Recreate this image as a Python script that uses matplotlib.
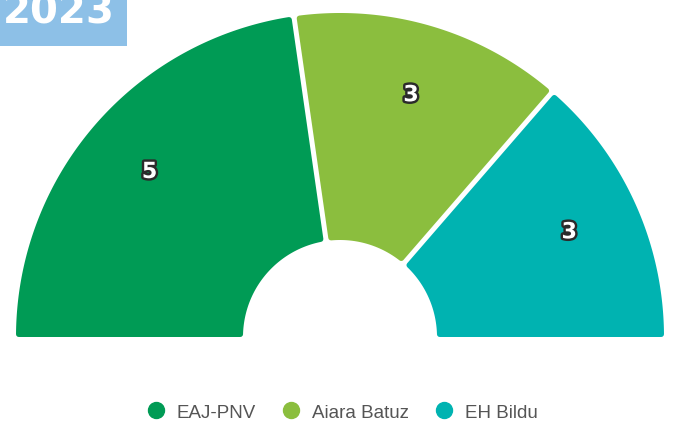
import numpy as np
import matplotlib
matplotlib.use('Agg')
import matplotlib.pyplot as plt
from matplotlib.patches import Polygon, Rectangle
from matplotlib.lines import Line2D
import matplotlib.patheffects as pe

parties = ['EAJ-PNV', 'Aiara Batuz', 'EH Bildu']
seats = [5, 3, 3]
colors = ['#009b55', '#8bbe3e', '#00b3b1']
year = '2023'

# geometry in pixels (y down)
cx, cy = 340, 338
R_out, R_in = 324, 97
lw_px = 5.5
gap = 5.0


def slice_poly(t0, t1, d0, d1, r_out, r_in):
    # t0 > t1 (degrees, drawn clockwise from left), d = perpendicular offsets
    def arc(r):
        a0 = np.radians(t0) - np.arcsin(d0 / r)
        a1 = np.radians(t1) + np.arcsin(d1 / r)
        return np.linspace(a0, a1, 120)
    ao = arc(r_out)
    ai = arc(r_in)[::-1]
    xs = np.concatenate([cx + r_out * np.cos(ao), cx + r_in * np.cos(ai)])
    ys = np.concatenate([cy - r_out * np.sin(ao), cy - r_in * np.sin(ai)])
    return np.column_stack([xs, ys])


fig = plt.figure(figsize=(6.78, 4.27), dpi=100)
ax = fig.add_axes([0, 0, 1, 1])
ax.set_xlim(0, 678)
ax.set_ylim(427, 0)
ax.axis('off')

total = sum(seats)
bounds = np.concatenate([[0], np.cumsum(seats)]) / total
angles = 180 - 180 * bounds
h = lw_px / 2
for i, (p, s, c) in enumerate(zip(parties, seats, colors)):
    t0, t1 = angles[i], angles[i + 1]
    d0 = h if i == 0 else h + gap / 2
    d1 = h if i == len(seats) - 1 else h + gap / 2
    verts = slice_poly(t0, t1, d0, d1, R_out - h, R_in + h)
    ax.add_patch(Polygon(verts, closed=True, facecolor=c, edgecolor=c,
                         linewidth=lw_px * 72 / 100, joinstyle='round'))
    mid = np.radians((t0 + t1) / 2)
    rl = 252
    ax.text(cx + rl * np.cos(mid), cy - rl * np.sin(mid), str(s),
            ha='center', va='center', fontsize=16, fontweight='bold',
            color='white', family='DejaVu Sans',
            path_effects=[pe.withStroke(linewidth=3.5, foreground='#2b2b2b')])

# year badge
ax.add_patch(Rectangle((0, 0), 127, 47, facecolor='#8dc0e7', edgecolor='none'))
ax.text(3, 24, year, ha='left', va='baseline', fontsize=29, fontweight='bold',
        color='white', family='DejaVu Sans')

handles = [Line2D([], [], linestyle='none', marker='o', markersize=11.5,
                  markerfacecolor=c, markeredgecolor=c) for c in colors]
leg = ax.legend(handles, parties, loc='center', bbox_to_anchor=(342 / 678, 1 - 413 / 427),
                ncol=3, frameon=False, handlelength=1.0, handletextpad=0.6,
                columnspacing=1.4, prop={'family': 'Liberation Sans', 'size': 13.5})
for t in leg.get_texts():
    t.set_color('#555555')

fig.savefig('out.png', dpi=100)
